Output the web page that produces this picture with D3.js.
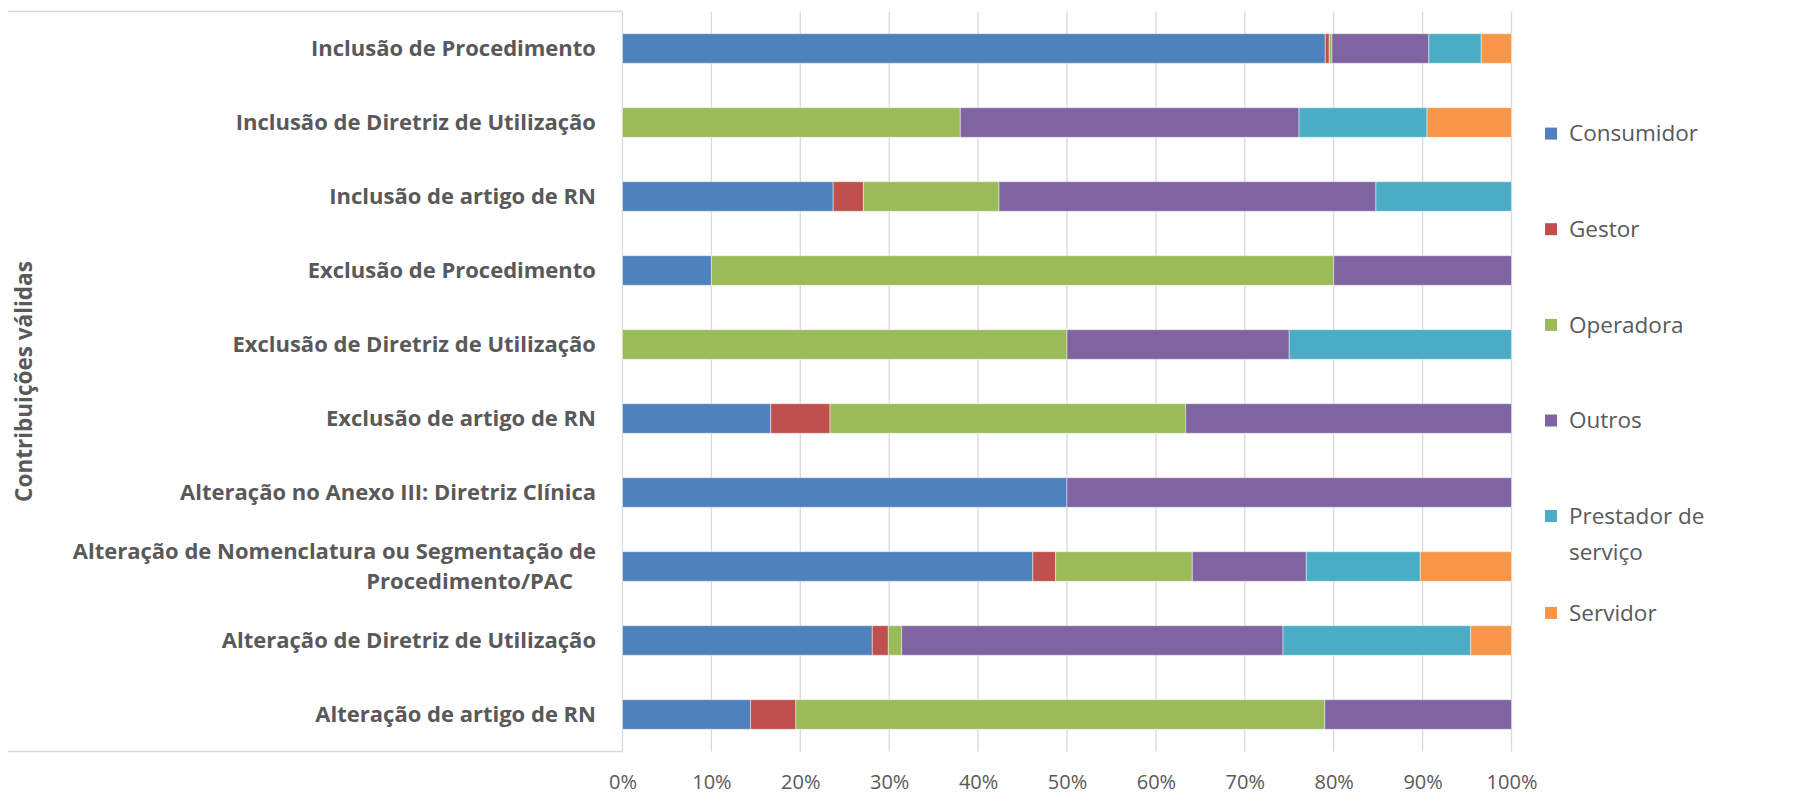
<!DOCTYPE html>
<html>
<head>
<meta charset="utf-8">
<script src="https://cdn.jsdelivr.net/npm/d3@7"></script>
<style>
  body { margin: 0; background: #fff; }
  text { font-family: "Open Sans", sans-serif; fill: #595959; }
</style>
</head>
<body>
<svg id="chart" width="1806" height="793"></svg>
<script>
var categories = [
  'Inclusão de Procedimento',
  'Inclusão de Diretriz de Utilização',
  'Inclusão de artigo de RN',
  'Exclusão de Procedimento',
  'Exclusão de Diretriz de Utilização',
  'Exclusão de artigo de RN',
  'Alteração no Anexo III: Diretriz Clínica',
  'Alteração de Nomenclatura ou Segmentação de|Procedimento/PAC',
  'Alteração de Diretriz de Utilização',
  'Alteração de artigo de RN'
];

var seriesNames = ['Consumidor', 'Gestor', 'Operadora', 'Outros', 'Prestador de serviço', 'Servidor'];
var seriesColors = ['#4F81BD', '#C0504D', '#9BBB59', '#8064A2', '#4BACC6', '#F79646'];

// percentages
var consumidor = [79.05, 0, 23.7, 10, 0, 16.67, 50, 46.15, 28.1, 14.4];
var gestor     = [0.45, 0, 3.4, 0, 0, 6.67, 0, 2.56, 1.8, 5.1];
var operadora  = [0.3, 38.0, 15.25, 70, 50, 40, 0, 15.38, 1.5, 59.5];
var outros     = [10.9, 38.1, 42.4, 20, 25, 36.66, 50, 12.82, 42.9, 21.0];
var prestador  = [5.9, 14.4, 15.25, 0, 25, 0, 0, 12.82, 21.1, 0];
var servidor   = [3.4, 9.5, 0, 0, 0, 0, 0, 10.26, 4.6, 0];

var xTicks = [0, 0.1, 0.2, 0.3, 0.4, 0.5, 0.6, 0.7, 0.8, 0.9, 1];

var allSeries = [consumidor, gestor, operadora, outros, prestador, servidor];

var rows = categories.map(function(c, i) {
  var r = { cat: c };
  seriesNames.forEach(function(s, j) { r[s] = allSeries[j][i]; });
  return r;
});

var svg = d3.select('#chart');

// plot area edges (don't call these top/left, window.top is read-only)
var plotLeft = 622.5, plotRight = 1511.5, plotTop = 11.5, plotBottom = 751.5;

var x = d3.scaleLinear().domain([0, 1]).range([plotLeft, plotRight]);
var y = d3.scaleBand().domain(categories).range([plotTop, plotBottom])
  .paddingInner(0.6).paddingOuter(0.3);

var stack = d3.stack().keys(seriesNames).offset(d3.stackOffsetExpand);
var stacked = stack(rows);

// gridlines
svg.append('g')
  .selectAll('line')
  .data(xTicks)
  .enter().append('line')
    .attr('x1', function(d) { return x(d); })
    .attr('x2', function(d) { return x(d); })
    .attr('y1', plotTop)
    .attr('y2', plotBottom)
    .style('stroke', '#D9D9D9')
    .style('stroke-width', 1.3);

// outer tick lines of the category axis
svg.append('g')
  .selectAll('line')
  .data([plotTop, plotBottom])
  .enter().append('line')
    .attr('x1', 8)
    .attr('x2', plotLeft)
    .attr('y1', function(d) { return d; })
    .attr('y2', function(d) { return d; })
    .style('stroke', '#D9D9D9')
    .style('stroke-width', 1.3);

// bars
svg.append('g')
  .selectAll('g')
  .data(stacked)
  .enter().append('g')
    .style('fill', function(d, i) { return seriesColors[i]; })
  .selectAll('rect')
  .data(function(d) { return d; })
  .enter().append('rect')
    .attr('x', function(d) { return x(d[0]); })
    .attr('y', function(d) { return y(d.data.cat); })
    .attr('width', function(d) { return Math.max(0, x(d[1]) - x(d[0])); })
    .attr('height', y.bandwidth())
    .style('stroke', '#fff')
    .style('stroke-opacity', function(d) { return d[1] - d[0] > 0 ? 0.45 : 0; })
    .style('stroke-width', 1);

// x axis
var xAxis = d3.axisBottom(x).tickValues(xTicks).tickFormat(d3.format('.0%')).tickSize(0).tickPadding(0);
var gx = svg.append('g').attr('transform', 'translate(0,' + plotBottom + ')').call(xAxis);
gx.select('.domain').remove();
gx.selectAll('text')
  .attr('dy', null)
  .attr('y', 37)
  .style('font-size', '20px')
  .style('fill', '#595959');

// category labels
var labels = svg.append('g')
  .selectAll('text')
  .data(categories)
  .enter().append('text')
    .attr('text-anchor', 'end')
    .style('font-size', '22px')
    .style('font-weight', 'bold');

labels.each(function(d) {
  var parts = d.split('|');
  var cy = y(d) + y.bandwidth() / 2;
  var t = d3.select(this);
  if (parts.length == 1) {
    t.attr('x', 596).attr('y', cy).attr('dy', '0.35em').text(parts[0]);
  } else {
    t.append('tspan').attr('x', 596).attr('y', cy - 15).attr('dy', '0.35em').text(parts[0]);
    t.append('tspan').attr('x', 573).attr('y', cy + 15).attr('dy', '0.35em').text(parts[1]);
  }
});

// y axis title
svg.append('text')
  .attr('transform', 'translate(32,' + ((plotTop + plotBottom) / 2) + ') rotate(-90)')
  .attr('text-anchor', 'middle')
  .style('font-size', '22.5px')
  .style('font-weight', 'bold')
  .text('Contribuições válidas');

// legend
var legendY = [133.6, 229.2, 324.9, 420.5, 516, 612.9];
var legend = svg.append('g')
  .selectAll('g')
  .data(seriesNames)
  .enter().append('g')
    .attr('transform', function(d, i) { return 'translate(1545,' + legendY[i] + ')'; });

legend.append('rect')
  .attr('x', 0)
  .attr('y', -6)
  .attr('width', 12)
  .attr('height', 12)
  .style('fill', function(d, i) { return seriesColors[i]; });

legend.append('text')
  .attr('x', 24)
  .attr('dy', '0.35em')
  .style('font-size', '22.5px')
  .each(function(d) {
    var t = d3.select(this);
    if (d == 'Prestador de serviço') {
      t.append('tspan').attr('x', 24).text('Prestador de');
      t.append('tspan').attr('x', 24).attr('dy', '1.6em').text('serviço');
    } else {
      t.text(d);
    }
  });
</script>
</body>
</html>
